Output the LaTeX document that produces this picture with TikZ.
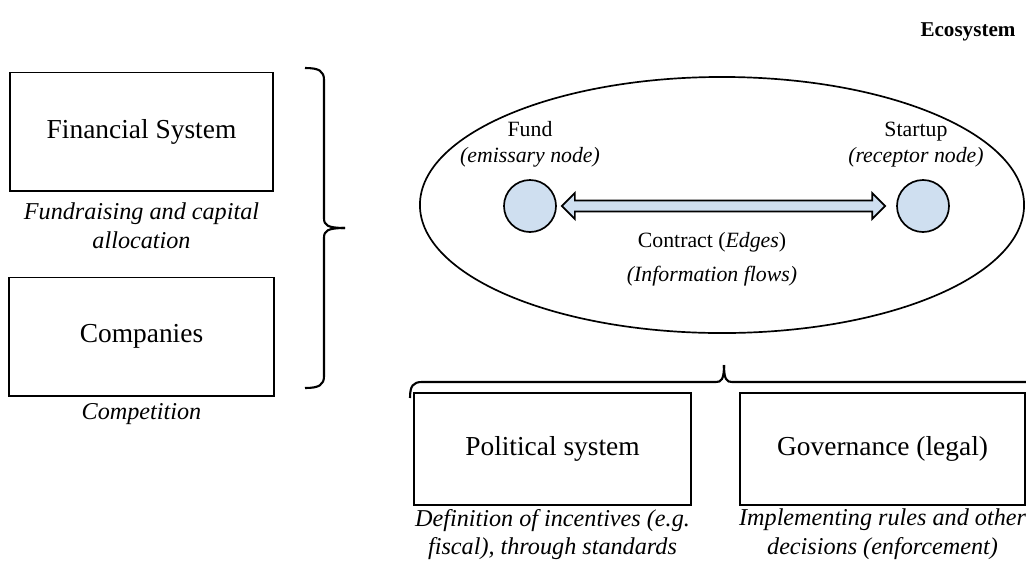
\documentclass[tikz,border=0pt]{standalone}
\usepackage{fontspec}
\setmainfont{Liberation Serif}
\usetikzlibrary{positioning,calc,shapes.geometric}

\definecolor{nodeblue}{RGB}{207,223,240}

\tikzset{
  sysbox/.style={draw, line width=1.4pt, minimum height=2.95cm, align=center,
    font=\fontsize{19.5}{23}\selectfont},
  note/.style={align=center, inner sep=0pt, font=\fontsize{17.2}{20.5}\selectfont\itshape},
  ecotext/.style={align=center, inner sep=0pt, font=\fontsize{15.5}{18.5}\selectfont},
  agent/.style={circle, draw, line width=1.2pt, fill=nodeblue, minimum size=1.3cm, inner sep=0pt},
  fatarrow/.style={draw, line width=1.2pt, fill=nodeblue, line join=miter},
  curlyline/.style={draw, line width=1.5pt},
  headline/.style={inner sep=0pt, font=\fontsize{15}{18}\selectfont\bfseries}
}

\begin{document}
\begin{tikzpicture}[x=0.025cm, y=-0.025cm]
  \useasboundingbox (0,0) rectangle (1026,567);
  \clip (0,0) rectangle (1026,567);
  \node[headline] (ecotitle) at (968,32) {Ecosystem};
  % left column
  \node[sysbox, minimum width=6.575cm] (fin) at (141.5,131.5) {Financial System};
  \node[note, below=8pt of fin] (finnote) {Fundraising and capital\\allocation};
  \node[sysbox, minimum width=6.625cm, below=2.125cm of fin] (comp) {Companies};
  \node[note, below=5pt of comp] (compnote) {Competition};
  \draw[curlyline] (305,68) .. controls (319,68) and (324,71) .. (324,80) -- (324,218)
    .. controls (324,225) and (327,228) .. (345,228);
  \draw[curlyline] (345,228) .. controls (327,228) and (324,231) .. (324,238) -- (324,376)
    .. controls (324,385) and (319,388) .. (305,388);
  % the ecosystem
  \node[ellipse, draw, line width=1.2pt, minimum width=15.1cm, minimum height=6.4cm] (eco) at (722,205) {};
  \node[agent] (fund) at (530,206) {};
  \node[agent] (startup) at (923,206) {};
  \node[ecotext, above=8pt of fund] (fundtext) {Fund\\\textit{(emissary node)}};
  \node[ecotext, above=8pt of startup, xshift=-5pt] (starttext) {Startup\\\textit{(receptor node)}};
  \coordinate (la) at ($(fund.east)+(5,0)$);
  \coordinate (ra) at ($(startup.west)+(-11,0)$);
  \draw[fatarrow] (la) -- ++(13,-13) -- ++(0,7.5) -- ($(ra)+(-13,-5.5)$) -- ++(0,-7.5)
    -- (ra) -- ++(-13,13) -- ++(0,-7.5) -- ($(la)+(13,5.5)$) -- ++(0,7.5) -- cycle;
  \node[ecotext] (contract) at (712,242) {Contract (\textit{Edges})};
  \node[ecotext, below=10pt of contract] (flows) {\textit{(Information flows)}};
  % institutions below
  \node[sysbox, minimum width=6.925cm, minimum height=2.8cm] (pol) at (552.5,449) {Political system};
  \node[sysbox, minimum width=7.125cm, minimum height=2.8cm, right=1.175cm of pol] (gov) {Governance (legal)};
  \node[note, below=2pt of pol] (polnote) {Definition of incentives (e.g.\\fiscal), through standards};
  \node[note, below=2pt of gov] (govnote) {Implementing rules and other\\decisions (enforcement)};
  \draw[curlyline] (410,398) .. controls (410,386) and (413,382) .. (422,382) -- (716,382)
    .. controls (721,382) and (724,380) .. (724,365);
  \draw[curlyline] (724,365) .. controls (724,380) and (727,382) .. (732,382) -- (1040,382);
\end{tikzpicture}
\end{document}
